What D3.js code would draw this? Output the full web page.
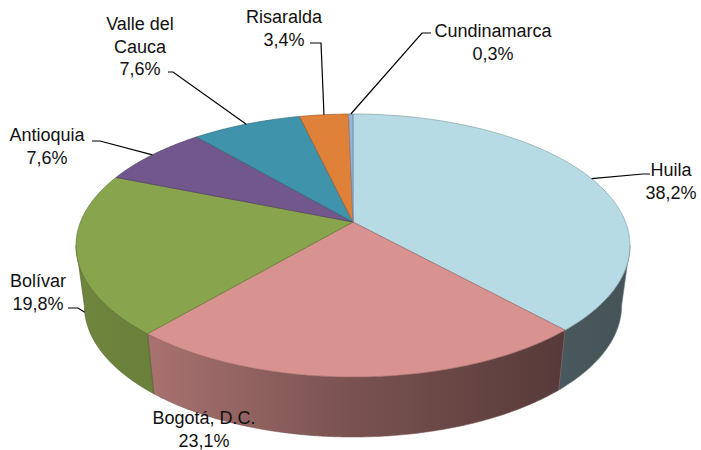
<!DOCTYPE html>
<html>
<head>
<meta charset="utf-8">
<script src="https://cdn.jsdelivr.net/npm/d3@7"></script>
<style>
  body { margin: 0; background: #fff; }
  svg text { font-family: "Liberation Sans", Arial, sans-serif; font-size: 18px; fill: #111; }
</style>
</head>
<body>
<div class="graph"></div>
<script>
// data
var categories = ["Huila", "Bogotá, D.C.", "Bolívar", "Antioquia", "Valle del Cauca", "Risaralda", "Cundinamarca"];
var shares = [38.2, 23.1, 19.8, 7.6, 7.6, 3.4, 0.3];
var colors = ["#b6dbe5", "#d8928f", "#88a44c", "#72578d", "#3f93ab", "#df8139", "#9ab3d6"];

// label layout: text centre x, first baseline y, leader points (elbow, end)
var labelLayout = [
  { lines: ["Huila"], x: 671, y: 176, leader: [[643, 174], [650, 174]] },
  { lines: ["Bogotá, D.C."], x: 204, y: 424, leader: null },
  { lines: ["Bolívar"], x: 38, y: 287, leader: [[78, 308], [68, 308]], side: true },
  { lines: ["Antioquia"], x: 47, y: 141, leader: [[100, 141], [92, 141]] },
  { lines: ["Valle del", "Cauca"], x: 140, y: 30, leader: [[173, 72], [168, 72]] },
  { lines: ["Risaralda"], x: 284, y: 23, leader: [[321, 43], [310, 43]] },
  { lines: ["Cundinamarca"], x: 493, y: 37, leader: [[422, 33], [431, 33]] }
];

var width = 701, height = 450;
var svg = d3.select(".graph").append("svg")
  .attr("width", width).attr("height", height);

// 3d pie geometry (apex, half width, half depth, perspective, thickness)
var cx = 353, cy = 222, W = 272.5, K = 127.3, persp = -0.1787, depth = 60;

function project(a, level) {
  var u = Math.sin(a), v = -Math.cos(a);
  var p = 1 + persp * v;
  return [cx + W * u / p * (1 - 0.03 * level), cy + K * v / p + depth * level];
}

function arcPoints(a0, a1, level) {
  var n = Math.max(2, Math.ceil(Math.abs(a1 - a0) / (Math.PI / 360)));
  var pts = [];
  for (var i = 0; i <= n; i++) pts.push(project(a0 + (a1 - a0) * i / n, level));
  return pts;
}

var pie = d3.pie().sort(null).value(function (d) { return d; });
var arcs = pie(shares);
var line = d3.line();

// side visible between the two silhouette angles
var visA = Math.acos(persp), visB = 2 * Math.PI - Math.acos(persp);

var defs = svg.append("defs");
var shade = [[0, 0.38], [0.12, 0.4], [0.5, 0.56], [0.87, 0.78], [1, 0.82]];
arcs.forEach(function (d, i) {
  var base = d3.rgb(colors[i]);
  defs.append("linearGradient")
    .attr("id", "side-" + i)
    .attr("gradientUnits", "userSpaceOnUse")
    .attr("x1", cx + W * 1.02).attr("y1", 0)
    .attr("x2", cx - W * 1.02).attr("y2", 0)
    .selectAll("stop").data(shade).enter().append("stop")
    .attr("offset", function (s) { return s[0]; })
    .attr("stop-color", function (s) {
      return d3.rgb(base.r * s[1], base.g * s[1], base.b * s[1]).formatHex();
    });
});

// sides
var g = svg.append("g");
arcs.forEach(function (d, i) {
  var a0 = Math.max(d.startAngle, visA), a1 = Math.min(d.endAngle, visB);
  if (a0 >= a1) return;
  var pts = arcPoints(a0, a1, 0).concat(arcPoints(a1, a0, 1));
  g.append("path")
    .attr("d", line(pts) + "Z")
    .attr("fill", "url(#side-" + i + ")")
    .attr("stroke", d3.rgb(colors[i]).darker(1.6))
    .attr("stroke-width", 0.6);
});

// top faces
arcs.forEach(function (d, i) {
  var pts = [[cx, cy]].concat(arcPoints(d.startAngle, d.endAngle, 0));
  g.append("path")
    .attr("d", line(pts) + "Z")
    .attr("fill", colors[i])
    .attr("stroke", d3.rgb(colors[i]).darker(0.9))
    .attr("stroke-width", 0.7)
    .attr("stroke-linejoin", "round");
});

// labels + leaders
var fmt = function (v) { return v.toFixed(1).replace(".", ",") + "%"; };
arcs.forEach(function (d, i) {
  var lay = labelLayout[i];
  var mid = (d.startAngle + d.endAngle) / 2;
  if (lay.leader) {
    var anchor = lay.side ? project(mid, 0.98) : project(mid, 0);
    svg.append("path")
      .attr("d", line([anchor].concat(lay.leader)))
      .attr("fill", "none").attr("stroke", "#000").attr("stroke-width", 1.2);
  }
  var t = svg.append("text").attr("text-anchor", "middle");
  lay.lines.concat([fmt(d.data)]).forEach(function (s, k) {
    t.append("tspan").attr("x", lay.x).attr("y", lay.y + k * 22.5).text(s);
  });
});
</script>
</body>
</html>
